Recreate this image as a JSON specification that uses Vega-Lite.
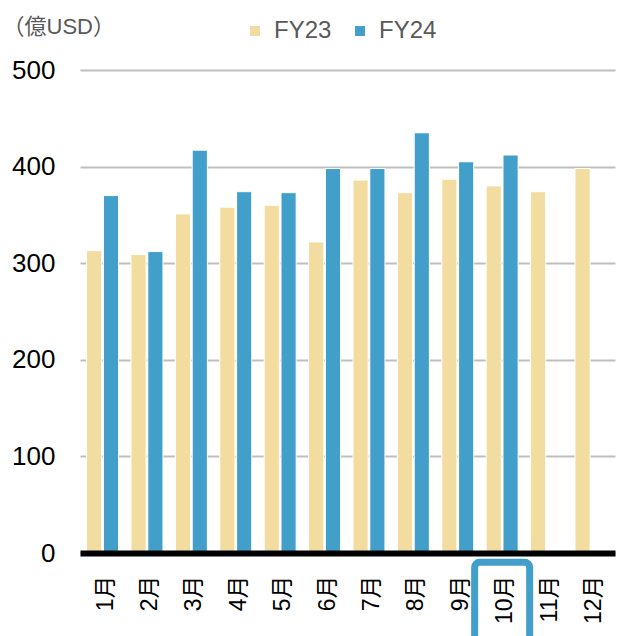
{
  "$schema": "https://vega.github.io/schema/vega-lite/v6.json",
  "width": 535,
  "height": 483,
  "autosize": {"type": "none"},
  "padding": {"left": 80, "top": 70, "right": 3, "bottom": 83},
  "background": "white",
  "config": {
    "view": {"stroke": null},
    "font": "Liberation Sans, Noto Sans CJK JP"
  },
  "datasets": {
    "sales": [
      {"month": "1月", "year": "FY23", "value": 313},
      {"month": "1月", "year": "FY24", "value": 370},
      {"month": "2月", "year": "FY23", "value": 309},
      {"month": "2月", "year": "FY24", "value": 312},
      {"month": "3月", "year": "FY23", "value": 351},
      {"month": "3月", "year": "FY24", "value": 417},
      {"month": "4月", "year": "FY23", "value": 358},
      {"month": "4月", "year": "FY24", "value": 374},
      {"month": "5月", "year": "FY23", "value": 360},
      {"month": "5月", "year": "FY24", "value": 373},
      {"month": "6月", "year": "FY23", "value": 322},
      {"month": "6月", "year": "FY24", "value": 398},
      {"month": "7月", "year": "FY23", "value": 386},
      {"month": "7月", "year": "FY24", "value": 398},
      {"month": "8月", "year": "FY23", "value": 373},
      {"month": "8月", "year": "FY24", "value": 435},
      {"month": "9月", "year": "FY23", "value": 387},
      {"month": "9月", "year": "FY24", "value": 405},
      {"month": "10月", "year": "FY23", "value": 380},
      {"month": "10月", "year": "FY24", "value": 412},
      {"month": "11月", "year": "FY23", "value": 374},
      {"month": "12月", "year": "FY23", "value": 398}
    ],
    "highlight": [{"month": "10月"}]
  },
  "layer": [
    {
      "data": {"name": "sales"},
      "mark": {"type": "bar", "stroke": "white", "strokeWidth": 1},
      "encoding": {
        "x": {
          "field": "month",
          "type": "ordinal",
          "scale": {
            "domain": ["1月", "2月", "3月", "4月", "5月", "6月", "7月", "8月", "9月", "10月", "11月", "12月"],
            "paddingInner": 0.28,
            "paddingOuter": 0.165,
            "align": 0.45
          },
          "axis": {
            "title": null,
            "labelAngle": 270,
            "labelAlign": "right",
            "labelBaseline": "middle",
            "labelFontSize": 23,
            "labelColor": "#000000",
            "labelPadding": 22,
            "labelOffset": 3,
            "ticks": false,
            "grid": false,
            "domain": true,
            "domainColor": "#000000",
            "domainWidth": 6,
            "zindex": 1
          }
        },
        "xOffset": {
          "field": "year",
          "type": "nominal",
          "scale": {"domain": ["FY23", "FY24"], "paddingInner": 0.1}
        },
        "y": {
          "field": "value",
          "type": "quantitative",
          "scale": {"domain": [0, 500], "nice": false},
          "axis": {
            "values": [0, 100, 200, 300, 400, 500],
            "title": "（億USD）",
            "titleAngle": 0,
            "titleX": -78,
            "titleY": -37,
            "titleAlign": "left",
            "titleBaseline": "alphabetic",
            "titleFontSize": 22,
            "titleFontWeight": "normal",
            "titleColor": "#595959",
            "labelFontSize": 26,
            "labelColor": "#000000",
            "labelPadding": 25,
            "ticks": false,
            "domain": false,
            "grid": true,
            "gridColor": "#BFBFBF",
            "gridWidth": 2
          }
        },
        "color": {
          "field": "year",
          "type": "nominal",
          "scale": {"domain": ["FY23", "FY24"], "range": ["#F3DCA0", "#419FC9"]},
          "legend": {
            "title": null,
            "orient": "none",
            "direction": "horizontal",
            "legendX": 163,
            "legendY": -51,
            "symbolType": "square",
            "symbolSize": 100,
            "symbolStrokeWidth": 0,
            "labelFontSize": 24,
            "labelColor": "#595959",
            "labelOffset": 7,
            "columnPadding": 16,
            "padding": 0
          }
        }
      }
    },
    {
      "data": {"name": "highlight"},
      "mark": {
        "type": "bar",
        "filled": false,
        "stroke": "#419FC9",
        "strokeWidth": 7,
        "cornerRadius": 5,
        "width": 55,
        "clip": false
      },
      "encoding": {
        "x": {"field": "month", "type": "ordinal"},
        "y": {"datum": -9.5, "type": "quantitative"},
        "y2": {"datum": -130}
      }
    }
  ]
}
